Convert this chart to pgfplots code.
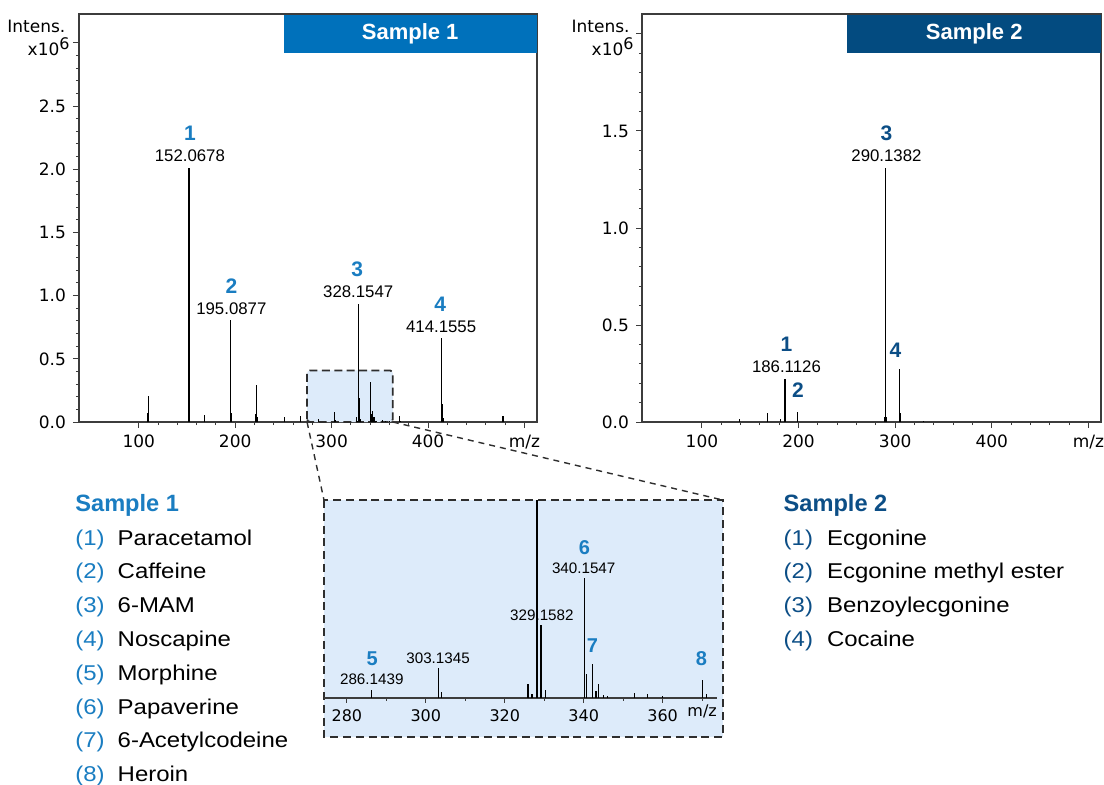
\documentclass[border=0pt]{standalone}
\usepackage{fontspec}
\setmainfont{Liberation Sans}
\newfontfamily\dejavu{DejaVu Sans}
\newfontfamily\legfont{Liberation Sans}[FakeStretch=1.12]
\usepackage{pgfplots}
\pgfplotsset{compat=1.18}
\usepackage{pgfplotstable}

\definecolor{sOne}{HTML}{0071BB}
\definecolor{sTwo}{HTML}{034B80}
\definecolor{lOne}{HTML}{1A7DC1}
\definecolor{lTwo}{HTML}{0C4E86}
\definecolor{fillblue}{HTML}{DDEBFA}
\definecolor{axgray}{HTML}{3C3C3C}
\definecolor{dashgray}{HTML}{2E2E2E}

\pgfplotstableread{
mz int
109.2 0.075
110.0 0.206
151.6 0.08
152.07 2.012
152.9 0.03
168.1 0.055
195.09 0.807
195.9 0.07
221.6 0.06
222.1 0.29
223.0 0.04
251.0 0.037
268.0 0.047
286.14 0.022
303.13 0.079
303.9 0.015
325.9 0.038
326.9 0.011
328.15 0.934
329.16 0.193
330.3 0.022
340.15 0.319
340.8 0.064
342.15 0.090
343.1 0.018
343.8 0.037
345.0 0.009
346.0 0.006
352.8 0.012
356.2 0.011
360.0 0.006
370.16 0.049
371.1 0.011
414.16 0.662
415.2 0.141
416.1 0.03
477.6 0.047
}\sampleone

\pgfplotstableread{
mz int
139.0 0.014
168.2 0.045
181.2 0.014
186.11 0.222
199.13 0.052
289.6 0.027
290.14 1.311
291.1 0.025
304.15 0.271
305.2 0.045
329.0 0.007
}\sampletwo

\pgfplotsset{
  msaxis/.style={
    scale only axis, width=229pt, height=204pt,
    xmin=38, xmax=513, ymin=0,
    xtick={100,200,300,400,500}, xticklabels={100,200,300,400,m/z},
    minor x tick num=4, minor y tick num=4,
    tick align=outside, xtick pos=bottom, ytick pos=left,
    major tick length=3pt, minor tick length=1.6pt,
    every tick/.style={axgray, line width=0.5pt},
    axis line style={axgray, line width=0.6pt},
    tick label style={font={\dejavu\fontsize{8.5}{10}\selectfont}},
    clip=false,
  },
}
\tikzset{
  lbl/.style={anchor=base, inner sep=0pt, font={\fontsize{8.4}{10}\selectfont}, yshift=3pt},
  idxA/.style={anchor=base, inner sep=0pt, font={\bfseries\fontsize{10.5}{12}\selectfont}, text=lOne, yshift=13.5pt},
  idxB/.style={anchor=base, inner sep=0pt, font={\bfseries\fontsize{10.5}{12}\selectfont}, text=lTwo, yshift=13.5pt},
  ilbl/.style={anchor=base, inner sep=0pt, font={\fontsize{7.6}{9}\selectfont}, yshift=2.5pt},
  iidx/.style={anchor=base, inner sep=0pt, font={\bfseries\fontsize{10}{12}\selectfont}, text=lOne, yshift=12pt},
}

\begin{document}
\begin{tikzpicture}
\path[use as bounding box] (0,0) rectangle (552pt,-392pt);

% ---------- Sample 1 ----------
\begin{axis}[msaxis, at={(39.5pt,-211pt)}, anchor=south west,
  ymax=3.228, ytick={0,0.5,1,1.5,2,2.5,3},
  yticklabels={0.0,0.5,1.0,1.5,2.0,2.5,{}}]
\draw[dashgray, dash pattern=on 4pt off 2.2pt, line width=0.9pt, fill=fillblue, rounded corners=1.5pt]
  (axis cs:274.5,0) rectangle (axis cs:363.5,0.408);
\addplot[ycomb, black, line width=0.65pt, mark=none] table[x=mz,y=int]{\sampleone};
\coordinate (zl) at (axis cs:274.5,0);
\coordinate (zr) at (axis cs:363.5,0);
\node[lbl] at (axis cs:153,2.012) {152.0678};
\node[idxA] at (axis cs:153,2.012) {1};
\node[lbl] at (axis cs:196,0.807) {195.0877};
\node[idxA] at (axis cs:196,0.807) {2};
\node[lbl] at (axis cs:327.6,0.934) {328.1547};
\node[idxA] at (axis cs:326.5,0.934) {3};
\node[lbl] at (axis cs:413.6,0.662) {414.1555};
\node[idxA] at (axis cs:412.5,0.662) {4};
\end{axis}

% ---------- Sample 2 ----------
\begin{axis}[msaxis, at={(321pt,-211pt)}, anchor=south west,
  width=229.5pt,
  ymax=2.103, ytick={0,0.5,1,1.5,2},
  yticklabels={0.0,0.5,1.0,1.5,{}}]
\addplot[ycomb, black, line width=0.65pt, mark=none] table[x=mz,y=int]{\sampletwo};
\node[lbl] at (axis cs:291,1.311) {290.1382};
\node[idxB] at (axis cs:291,1.311) {3};
\node[lbl] at (axis cs:187.5,0.222) {186.1126};
\node[idxB] at (axis cs:187.5,0.222) {1};
\node[idxB, yshift=-6.2pt] at (axis cs:199.3,0.052) {2};
\node[idxB, yshift=-7.5pt] at (axis cs:300.4,0.271) {4};
\end{axis}

% headers
\fill[sOne] (141.75pt,-7.3pt) rectangle (268.5pt,-26.65pt);
\node[text=white, font={\bfseries\fontsize{11}{13}\selectfont}] at (205.1pt,-16.9pt) {Sample 1};
\fill[sTwo] (423.7pt,-7.3pt) rectangle (550.5pt,-26.65pt);
\node[text=white, font={\bfseries\fontsize{11}{13}\selectfont}] at (487.1pt,-16.9pt) {Sample 2};

% Intens. labels
\node[anchor=base east, inner sep=0pt, font={\dejavu\fontsize{8.5}{10}\selectfont}] at (32.85pt,-16.15pt) {Intens.};
\node[anchor=base east, inner sep=0pt, font={\dejavu\fontsize{8.5}{10}\selectfont}] at (35pt,-27.5pt) {x10\raisebox{2.6pt}{\fontsize{8}{9}\selectfont 6}};
\node[anchor=base east, inner sep=0pt, font={\dejavu\fontsize{8.5}{10}\selectfont}] at (315pt,-16.15pt) {Intens.};
\node[anchor=base east, inner sep=0pt, font={\dejavu\fontsize{8.5}{10}\selectfont}] at (317pt,-27.5pt) {x10\raisebox{2.6pt}{\fontsize{8}{9}\selectfont 6}};

% ---------- inset ----------
\draw[dashgray, dash pattern=on 4pt off 2.4pt, line width=1.1pt, fill=fillblue]
  (162pt,-250pt) rectangle (361.35pt,-368.5pt);
\begin{axis}[at={(162pt,-368.5pt)}, anchor=south west,
  scale only axis, width=196.35pt, height=118.5pt,
  xmin=274.2, xmax=373.7, ymin=-0.104, ymax=0.527,
  axis x line=middle, axis y line=none,
  hide obscured x ticks=false,
  axis line style={-, axgray, line width=0.6pt},
  xtick={280,300,320,340,360}, xticklabels={280,300,320,340,360},
  minor xtick={290,310,330,350,370},
  extra x ticks={370}, extra x tick labels={m/z},
  extra x tick style={major tick length=0pt},
  tick align=outside, major tick length=2.5pt, minor tick length=1.5pt,
  every tick/.style={axgray, line width=0.5pt},
  tick label style={font={\dejavu\fontsize{8}{9.5}\selectfont}},
  clip mode=individual]
\addplot[ycomb, black, line width=0.6pt, mark=none] table[x=mz,y=int]{\sampleone};
\node[ilbl] at (axis cs:286.3,0.022) {286.1439};
\node[iidx] at (axis cs:286.4,0.022) {5};
\node[ilbl] at (axis cs:303.1,0.079) {303.1345};
\node[ilbl] at (axis cs:329.4,0.193) {329.1582};
\node[ilbl] at (axis cs:340,0.319) {340.1547};
\node[iidx] at (axis cs:340.2,0.319) {6};
\node[iidx, yshift=-6.3pt] at (axis cs:342.2,0.090) {7};
\node[iidx, yshift=-5pt] at (axis cs:369.8,0.049) {8};
\end{axis}

% zoom lines
\draw[dashgray, dash pattern=on 3pt off 2.5pt, line width=0.7pt] (zl) -- (162pt,-250pt);
\draw[dashgray, dash pattern=on 3pt off 2.5pt, line width=0.7pt] (zr) -- (361.35pt,-250pt);

% ---------- legends ----------
\node[anchor=base west, inner sep=0pt, text=lOne, font={\bfseries\fontsize{11.8}{14}\selectfont}] at (37.5pt,-255.85pt) {Sample 1};
\foreach \n/\name [count=\k from 0] in {1/Paracetamol,2/Caffeine,3/6-MAM,4/Noscapine,5/Morphine,6/Papaverine,7/6-Acetylcodeine,8/Heroin}{
  \node[anchor=base west, inner sep=0pt, text=lOne, font={\legfont\fontsize{10.7}{12}\selectfont}] at (37.5pt,{-272.5pt-16.9pt*\k}) {(\n)};
  \node[anchor=base west, inner sep=0pt, font={\legfont\fontsize{10.7}{12}\selectfont}] at (58.65pt,{-272.5pt-16.9pt*\k}) {\name};
}
\node[anchor=base west, inner sep=0pt, text=lTwo, font={\bfseries\fontsize{11.8}{14}\selectfont}] at (391.65pt,-255.85pt) {Sample 2};
\foreach \n/\name [count=\k from 0] in {1/Ecgonine,2/Ecgonine methyl ester,3/Benzoylecgonine,4/Cocaine}{
  \node[anchor=base west, inner sep=0pt, text=lTwo, font={\legfont\fontsize{10.7}{12}\selectfont}] at (391.65pt,{-272.5pt-16.9pt*\k}) {(\n)};
  \node[anchor=base west, inner sep=0pt, font={\legfont\fontsize{10.7}{12}\selectfont}] at (413.35pt,{-272.5pt-16.9pt*\k}) {\name};
}
\end{tikzpicture}
\end{document}
